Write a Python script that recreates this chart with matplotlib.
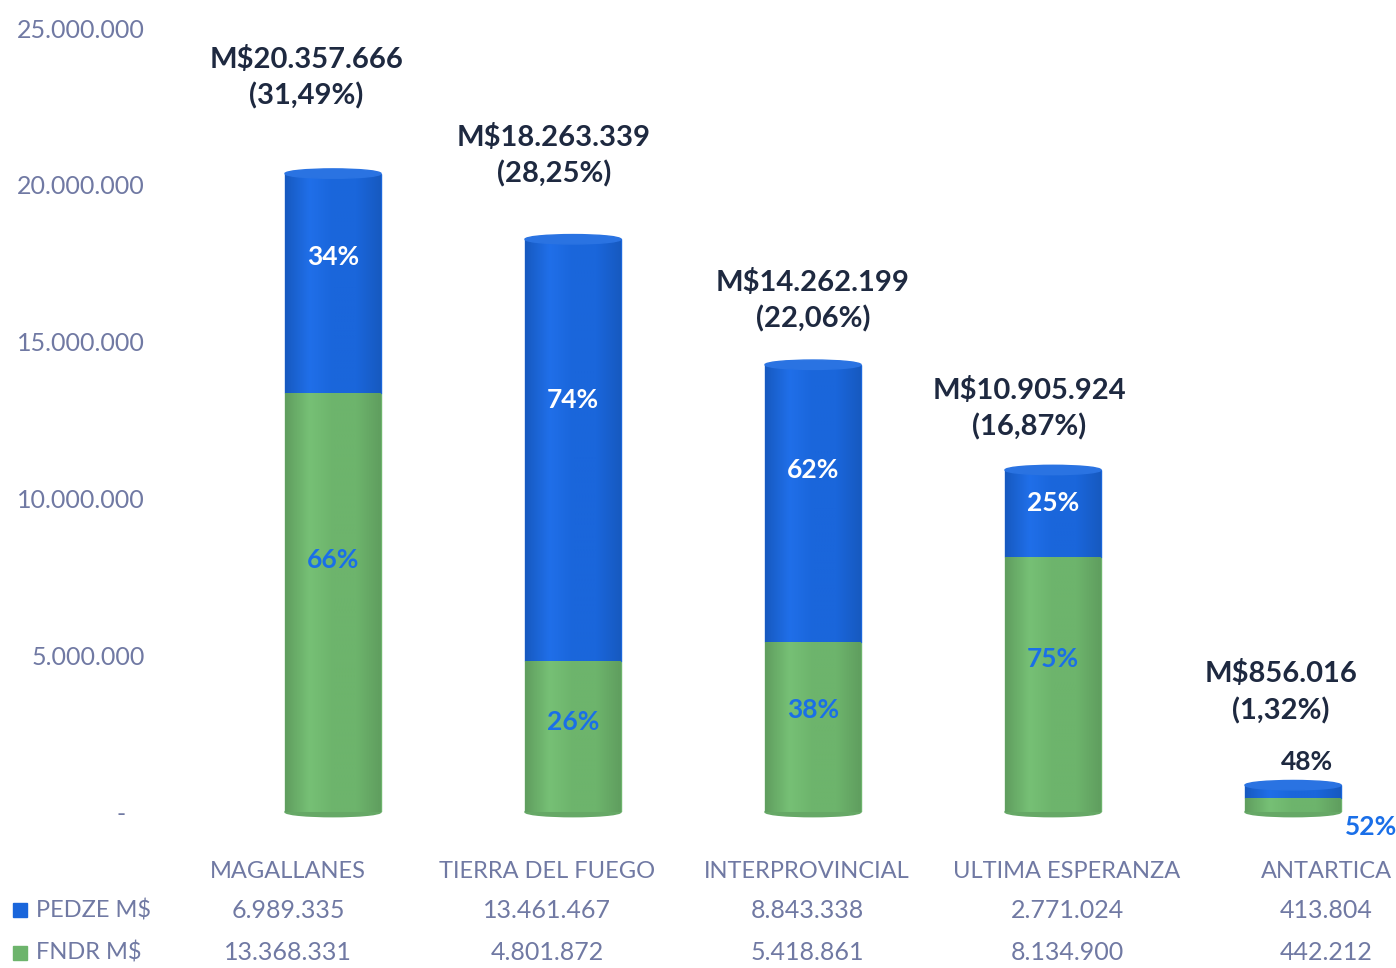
import numpy as np
import matplotlib.pyplot as plt
from matplotlib.patches import Rectangle, Ellipse
from matplotlib.colors import LinearSegmentedColormap, to_rgb

plt.rcParams['font.family'] = ['Lato', 'DejaVu Sans']

# datos
provincias = ['MAGALLANES', 'TIERRA DEL FUEGO', 'INTERPROVINCIAL',
              'ULTIMA ESPERANZA', 'ANTARTICA']
pedze = [6989335, 13461467, 8843338, 2771024, 413804]
fndr = [13368331, 4801872, 5418861, 8134900, 442212]
pct_pedze = ['34%', '74%', '62%', '25%', '48%']
pct_fndr = ['66%', '26%', '38%', '75%', '52%']
pct_total = ['31,49%', '28,25%', '22,06%', '16,87%', '1,32%']
yticks = [0, 5000000, 10000000, 15000000, 20000000, 25000000]

# posiciones de las etiquetas de total (desplazamiento x en unidades, y en puntos)
lab_dx = [-0.11, -0.08, 0.0, -0.1, -0.05]
lab_dy = [46, 37, 23, 21, 44]

BLUE = '#1a66db'
GREEN = '#6db46c'
GRAY = '#7079a3'
NAVY = '#1e2940'
PCTBLUE = '#1a6fe8'

W, H = 1396, 968


def fmt(v):
    return f'{v:,}'.replace(',', '.')


def shade_cmap(c):
    r, g, b = to_rgb(c)
    dark = (r * 0.88, g * 0.88, b * 0.88)
    light = tuple(min(1, x * 1.04 + 0.02) for x in (r, g, b))
    return LinearSegmentedColormap.from_list('s', [dark, light, c, c, dark])


fig = plt.figure(figsize=(W / 100, H / 100), dpi=100)
ax_left, ax_right = 213, W
ax_top, ax_bot = 28, 812
ax = fig.add_axes([ax_left / W, 1 - ax_bot / H, (ax_right - ax_left) / W, (ax_bot - ax_top) / H])
xmax = -0.5 + (ax_right - ax_left) / 240
bw = 0.4
eh = 0.3e6

for i in range(len(provincias)):
    total = pedze[i] + fndr[i]
    segs = [(0, fndr[i], GREEN), (fndr[i], total, BLUE)]
    # borde inferior redondeado
    ax.add_patch(Ellipse((i, 0), bw, eh, color='#66a866', zorder=1, clip_on=False))
    for y0, y1, c in segs:
        rect = Rectangle((i - bw / 2, y0), bw, y1 - y0, color=c, zorder=2)
        ax.add_patch(rect)
        im = ax.imshow(np.linspace(0, 1, 64)[None, :], cmap=shade_cmap(c), aspect='auto',
                       extent=[i - bw / 2, i + bw / 2, y0, y1], zorder=3)
        im.set_clip_path(rect)
    ax.add_patch(Ellipse((i, total), bw, eh, color='#2a73e2', zorder=4))

    # totales
    ax.annotate(f'M${fmt(total)}\n({pct_total[i]})', (i + lab_dx[i], total),
                xytext=(0, lab_dy[i]), textcoords='offset points', ha='center', va='bottom',
                fontsize=21, fontweight='bold', color=NAVY, linespacing=1.45,
                annotation_clip=False)

    if total > 2e6:
        ax.text(i, fndr[i] + pedze[i] * 0.62, pct_pedze[i], ha='center', va='center',
                fontsize=19, fontweight='bold', color='white', zorder=5)
        ax.text(i, fndr[i] * 0.6, pct_fndr[i], ha='center', va='center',
                fontsize=19, fontweight='bold', color=PCTBLUE, zorder=5)
    else:
        ax.annotate(pct_pedze[i], (i + 0.06, total), xytext=(0, 8), textcoords='offset points',
                    ha='center', va='bottom', fontsize=19, fontweight='bold', color=NAVY)
        ax.annotate(pct_fndr[i], (i + bw / 2, 0), xytext=(3, -2), textcoords='offset points',
                    ha='left', va='top', fontsize=19, fontweight='bold', color=PCTBLUE,
                    annotation_clip=False)

ax.set_xlim(-0.5, xmax)
ax.set_ylim(0, 25e6)
ax.set_yticks(yticks)
ax.set_yticklabels([fmt(v) if v else '-   ' for v in yticks], fontsize=18, color=GRAY)
ax.tick_params(axis='y', length=0, pad=49)
ax.set_xticks([])
for s in ax.spines.values():
    s.set_visible(False)

# tabla de datos
col_x = [288, 547, 807, 1067, 1326]
rows_y = [872, 910, 953]
for j, name in enumerate(provincias):
    fig.text(col_x[j] / W, 1 - rows_y[0] / H, name, ha='center', va='center', fontsize=17, color=GRAY)
    fig.text(col_x[j] / W, 1 - rows_y[1] / H, fmt(pedze[j]), ha='center', va='center', fontsize=18, color=GRAY)
    fig.text(col_x[j] / W, 1 - rows_y[2] / H, fmt(fndr[j]), ha='center', va='center', fontsize=18, color=GRAY)

for (lab, c), y in zip([('PEDZE M$', BLUE), ('FNDR M$', GREEN)], rows_y[1:]):
    fig.patches.append(Rectangle((13 / W, 1 - (y + 7) / H), 14 / W, 14 / H, color=c,
                                 transform=fig.transFigure, figure=fig))
    fig.text(36 / W, 1 - y / H, lab, ha='left', va='center', fontsize=17, color=GRAY)

fig.savefig('out.png', dpi=100)
